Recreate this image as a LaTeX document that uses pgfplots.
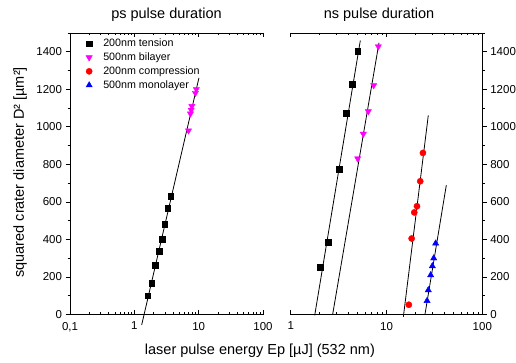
\documentclass[border=0pt]{standalone}
\usepackage{fontspec}
\setmainfont{Liberation Sans}
\usepackage{pgfplots}
\pgfplotsset{compat=1.18}
\definecolor{mag}{RGB}{255,0,255}
\pgfplotsset{
  pSq/.style={only marks, mark=square*, mark size=2.9pt, black, mark options={fill=black}},
  pTri/.style={only marks, mark=triangle*, mark size=3.6pt, mag, mark options={fill=mag, rotate=180}},
  pCirc/.style={only marks, mark=*, mark size=3.1pt, red, mark options={fill=red}},
  pUtri/.style={only marks, mark=triangle*, mark size=3.6pt, blue, mark options={fill=blue}},
  pFit/.style={black, line width=0.8pt, forget plot, no marks},
}
\begin{document}
\begin{tikzpicture}
\path[use as bounding box] (0pt,0pt) rectangle (516pt,-363pt);
\begin{axis}[
  scale only axis, height=281.5pt,
  xmode=log, ymin=0, ymax=1500,
  clip=false,
  axis x line*=box,
  axis y line*=left,
  axis line style={line width=0.8pt},
  every tick/.style={line width=0.7pt, black},
  major tick length=4.5pt, minor tick length=2.5pt,
  xtick align=inside, ytick align=outside,
  ytick={0,200,400,600,800,1000,1200,1400},
  minor ytick={100,300,500,700,900,1100,1300,1500},
  /pgf/number format/1000 sep={},
  /pgf/number format/assume math mode=true,
  tick label style={font=\fontsize{11.5}{13}\selectfont},
  xticklabel style={yshift=-4pt},
  at={(70pt,-314.5pt)}, anchor=south west, width=193pt,
  xmin=0.1, xmax=100,
  xtick={0.1,1,10,100}, xticklabels={{0,1},1,10,100},
  title={ps pulse duration},
  title style={at={(axis description cs:0.5,1.045)}, anchor=center, yshift=0pt, font=\fontsize{14.5}{17}\selectfont},
  ylabel={squared crater diameter D² [µm²]},
  ylabel style={at={(axis description cs:-0.258,0.505)}, anchor=center, rotate=0, font=\fontsize{14.5}{17}\selectfont},
  xlabel={laser pulse energy Ep [µJ] (532 nm)},
  xlabel style={at={(axis description cs:0.984,-0.128)}, anchor=center, font=\fontsize{14.5}{17}\selectfont},
  legend style={draw=none, fill=none, at={(axis description cs:0.077,0.99)}, anchor=north west,
    font=\fontsize{10.7}{12}\selectfont, row sep=0.6pt, inner sep=1pt,
    /tikz/every odd column/.append style={column sep=9pt}},
  legend cell align=left,
]
\addplot[pFit] coordinates {(1.30,-56) (10.1,1261)};
\addplot[pSq] coordinates {(1.61,100) (1.86,167) (2.12,263) (2.42,338) (2.69,402) (2.97,483) (3.30,568) (3.67,632)};
\addlegendentry{200nm tension}
\addplot[pTri] coordinates {(6.95,980) (7.45,1070) (7.65,1090) (7.85,1110) (8.9,1180) (9.2,1200)};
\addlegendentry{500nm bilayer}
\addlegendimage{pCirc}
\addlegendentry{200nm compression}
\addlegendimage{pUtri}
\addlegendentry{500nm monolayer}
\end{axis}
\begin{axis}[
  scale only axis, height=281.5pt,
  xmode=log, ymin=0, ymax=1500,
  clip=false,
  axis x line*=box,
  axis y line*=right,
  axis line style={line width=0.8pt},
  every tick/.style={line width=0.7pt, black},
  major tick length=4.5pt, minor tick length=2.5pt,
  xtick align=inside, ytick align=outside,
  ytick={0,200,400,600,800,1000,1200,1400},
  minor ytick={100,300,500,700,900,1100,1300,1500},
  /pgf/number format/1000 sep={},
  /pgf/number format/assume math mode=true,
  tick label style={font=\fontsize{11.5}{13}\selectfont},
  xticklabel style={yshift=-4pt},
  at={(290.7pt,-314.5pt)}, anchor=south west, width=191.6pt,
  xmin=1, xmax=100,
  xtick={1,10,100}, xticklabels={1,10,100},
  title={ns pulse duration},
  title style={at={(axis description cs:0.461,1.045)}, anchor=center, yshift=0pt, font=\fontsize{14.5}{17}\selectfont},
]
\addplot[pFit] coordinates {(1.78,-5) (5.33,1460)};
\addplot[pFit] coordinates {(2.74,0) (8.35,1448)};
\addplot[pFit] coordinates {(15.0,-12) (27.3,1061)};
\addplot[pFit] coordinates {(25.2,0) (42.1,689)};
\addplot[pSq] coordinates {(2.04,253) (2.47,384) (3.22,776) (3.78,1073) (4.40,1226) (5.0,1403)};
\addplot[pTri] coordinates {(5.0,831) (5.73,962) (6.46,1082) (7.35,1221) (8.22,1428)};
\addplot[pCirc] coordinates {(17.1,52) (18.3,405) (19.5,544) (20.8,577) (22.5,710) (24.0,861)};
\addplot[pUtri] coordinates {(26.5,73) (27.3,130) (28.9,210) (30.1,258) (31.1,300) (32.6,379)};
\end{axis}
\end{tikzpicture}
\end{document}
